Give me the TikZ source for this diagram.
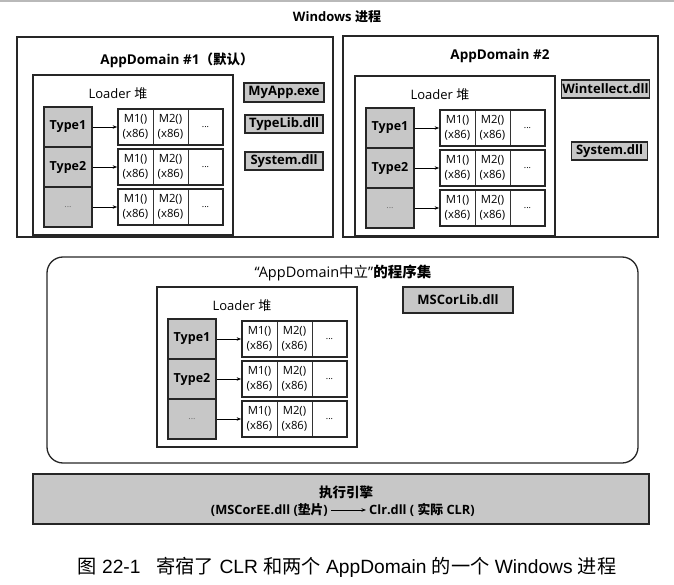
\documentclass[tikz,border=0pt]{standalone}
\usepackage{fontspec}
\setmainfont{Open Sans}
\newfontfamily\cjk{Noto Sans CJK SC}
\newfontfamily\capfont{Liberation Sans}
\usetikzlibrary{arrows.meta}
\tikzset{
  frame/.style={draw=black!85, line width=1.3pt, inner sep=0pt, outer sep=0pt, anchor=north west},
  typebox/.style={draw=black!85, fill=black!22, line width=1.6pt, minimum width=48pt, minimum height=40pt, inner sep=0pt, font=\fontsize{12.5}{14}\selectfont\bfseries},
  cell/.style={draw=black!80, line width=0.6pt, minimum width=35pt, minimum height=36pt, inner sep=0pt, align=center, font=\fontsize{11.3}{14.5}\selectfont},
  rowbox/.style={draw=black!85, line width=1.7pt, minimum width=105pt, minimum height=36pt, inner sep=0pt},
  dllbox/.style={draw=black!85, fill=black!22, line width=1.6pt, inner sep=0pt, font=\fontsize{13}{15}\selectfont\bfseries},
  link/.style={-{Stealth[length=4.5pt,width=3.5pt]}, line width=0.8pt},
  lbl/.style={inner sep=1pt, font=\fontsize{13}{15}\selectfont},
  ttl/.style={inner sep=1pt, font=\fontsize{13.5}{15}\selectfont\bfseries}
}
\newcommand\loaderheap[3]{%
  \begin{scope}[shift={(#2,#3)}]
    \node[frame, minimum width=200pt, minimum height=160pt] (#1-box) at (0,0) {};
    \node[lbl] (#1-lbl) at (85,19) {Loader {\cjk 堆}};
    \foreach \i/\t/\yy in {1/Type1/52, 2/Type2/92, 3/{\textcolor{black!55}{\mdseries\fontsize{9}{10}\selectfont ...}}/132} {
      \node[typebox] (#1-t\i) at (35,\yy) {\t};
      \node[cell] (#1-ma\i) at (102.5,\yy) {M1()\\(x86)};
      \node[cell] (#1-mb\i) at (137.5,\yy) {M2()\\(x86)};
      \node[cell, font=\fontsize{9}{10}\selectfont] (#1-md\i) at (172.5,\yy) {...};
      \node[rowbox] (#1-r\i) at (137.5,\yy) {};
      \draw[link] (#1-t\i) -- (#1-r\i);
    }
  \end{scope}}
\begin{document}
\begin{tikzpicture}[x=1pt,y=-1pt]
\useasboundingbox (0,0) rectangle (674,585);
\coordinate (tl) at (0,0.8);
\coordinate (tr) at (674,0.8);
\draw[gray!55, line width=1.5pt] (tl) -- (tr);

\node[inner sep=1pt, font=\fontsize{13}{15}\selectfont\bfseries] (proc) at (337,17) {Windows {\cjk 进程}};

% AppDomain #1
\node[frame, minimum width=316pt, minimum height=200pt] (ad1) at (17,37) {};
\node[ttl] (ad1-t) at (177,60) {AppDomain \#1{\cjk （默认）}};
\loaderheap{a}{33}{75}
\node[dllbox, minimum width=80pt, minimum height=19pt] (myapp) at (284,92.5) {MyApp.exe};
\node[dllbox, minimum width=78pt, minimum height=18pt] (typelib) at (284,124) {TypeLib.dll};
\node[dllbox, minimum width=78pt, minimum height=18pt] (sys1) at (284,161) {System.dll};

% AppDomain #2
\node[frame, minimum width=315pt, minimum height=201pt] (ad2) at (343,36) {};
\node[ttl] (ad2-t) at (500,56) {AppDomain \#2};
\loaderheap{b}{355}{76}
\node[dllbox, minimum width=88pt, minimum height=18pt] (wintellect) at (605.5,89) {Wintellect.dll};
\node[dllbox, minimum width=76pt, minimum height=18pt] (sys2) at (609.5,151) {System.dll};

% Neutral
\node[frame, rounded corners=16pt, minimum width=591pt, minimum height=206pt] (neutral) at (47,257) {};
\node[inner sep=1pt, font=\fontsize{14.5}{16}\selectfont] (neutral-t) at (343,273) {“AppDomain{\cjk 中立}”{\cjk\bfseries 的程序集}};
\loaderheap{c}{157}{287}
\node[dllbox, minimum width=110pt, minimum height=26pt] (mscorlib) at (458,300) {MSCorLib.dll};

% Execution engine
\node[frame, fill=black!22, line width=1.6pt, minimum width=616pt, minimum height=50pt] (engine) at (33,474) {};
\node[inner sep=1pt, font=\fontsize{13.5}{15}\selectfont\bfseries] (engine-t) at (346,492) {{\cjk 执行引擎}};
\node[inner sep=1pt, anchor=east, font=\fontsize{12.8}{14}\selectfont\bfseries] (e-l) at (329,510) {(MSCorEE.dll ({\cjk 垫片})};
\node[inner sep=1pt, anchor=west, font=\fontsize{12.8}{14}\selectfont\bfseries] (e-r) at (368,510) {Clr.dll ( {\cjk 实际} CLR)};
\draw[link, shorten <=2pt, shorten >=2pt] (e-l) -- (e-r);

% Caption
\node[inner sep=0pt, font=\capfont\fontsize{19.2}{21}\selectfont] (caption) at (347,567) {{\cjk 图} 22-1\hspace{16pt}{\cjk 寄宿了} CLR {\cjk 和两个} AppDomain {\cjk 的一个} Windows {\cjk 进程}};
\end{tikzpicture}
\end{document}
